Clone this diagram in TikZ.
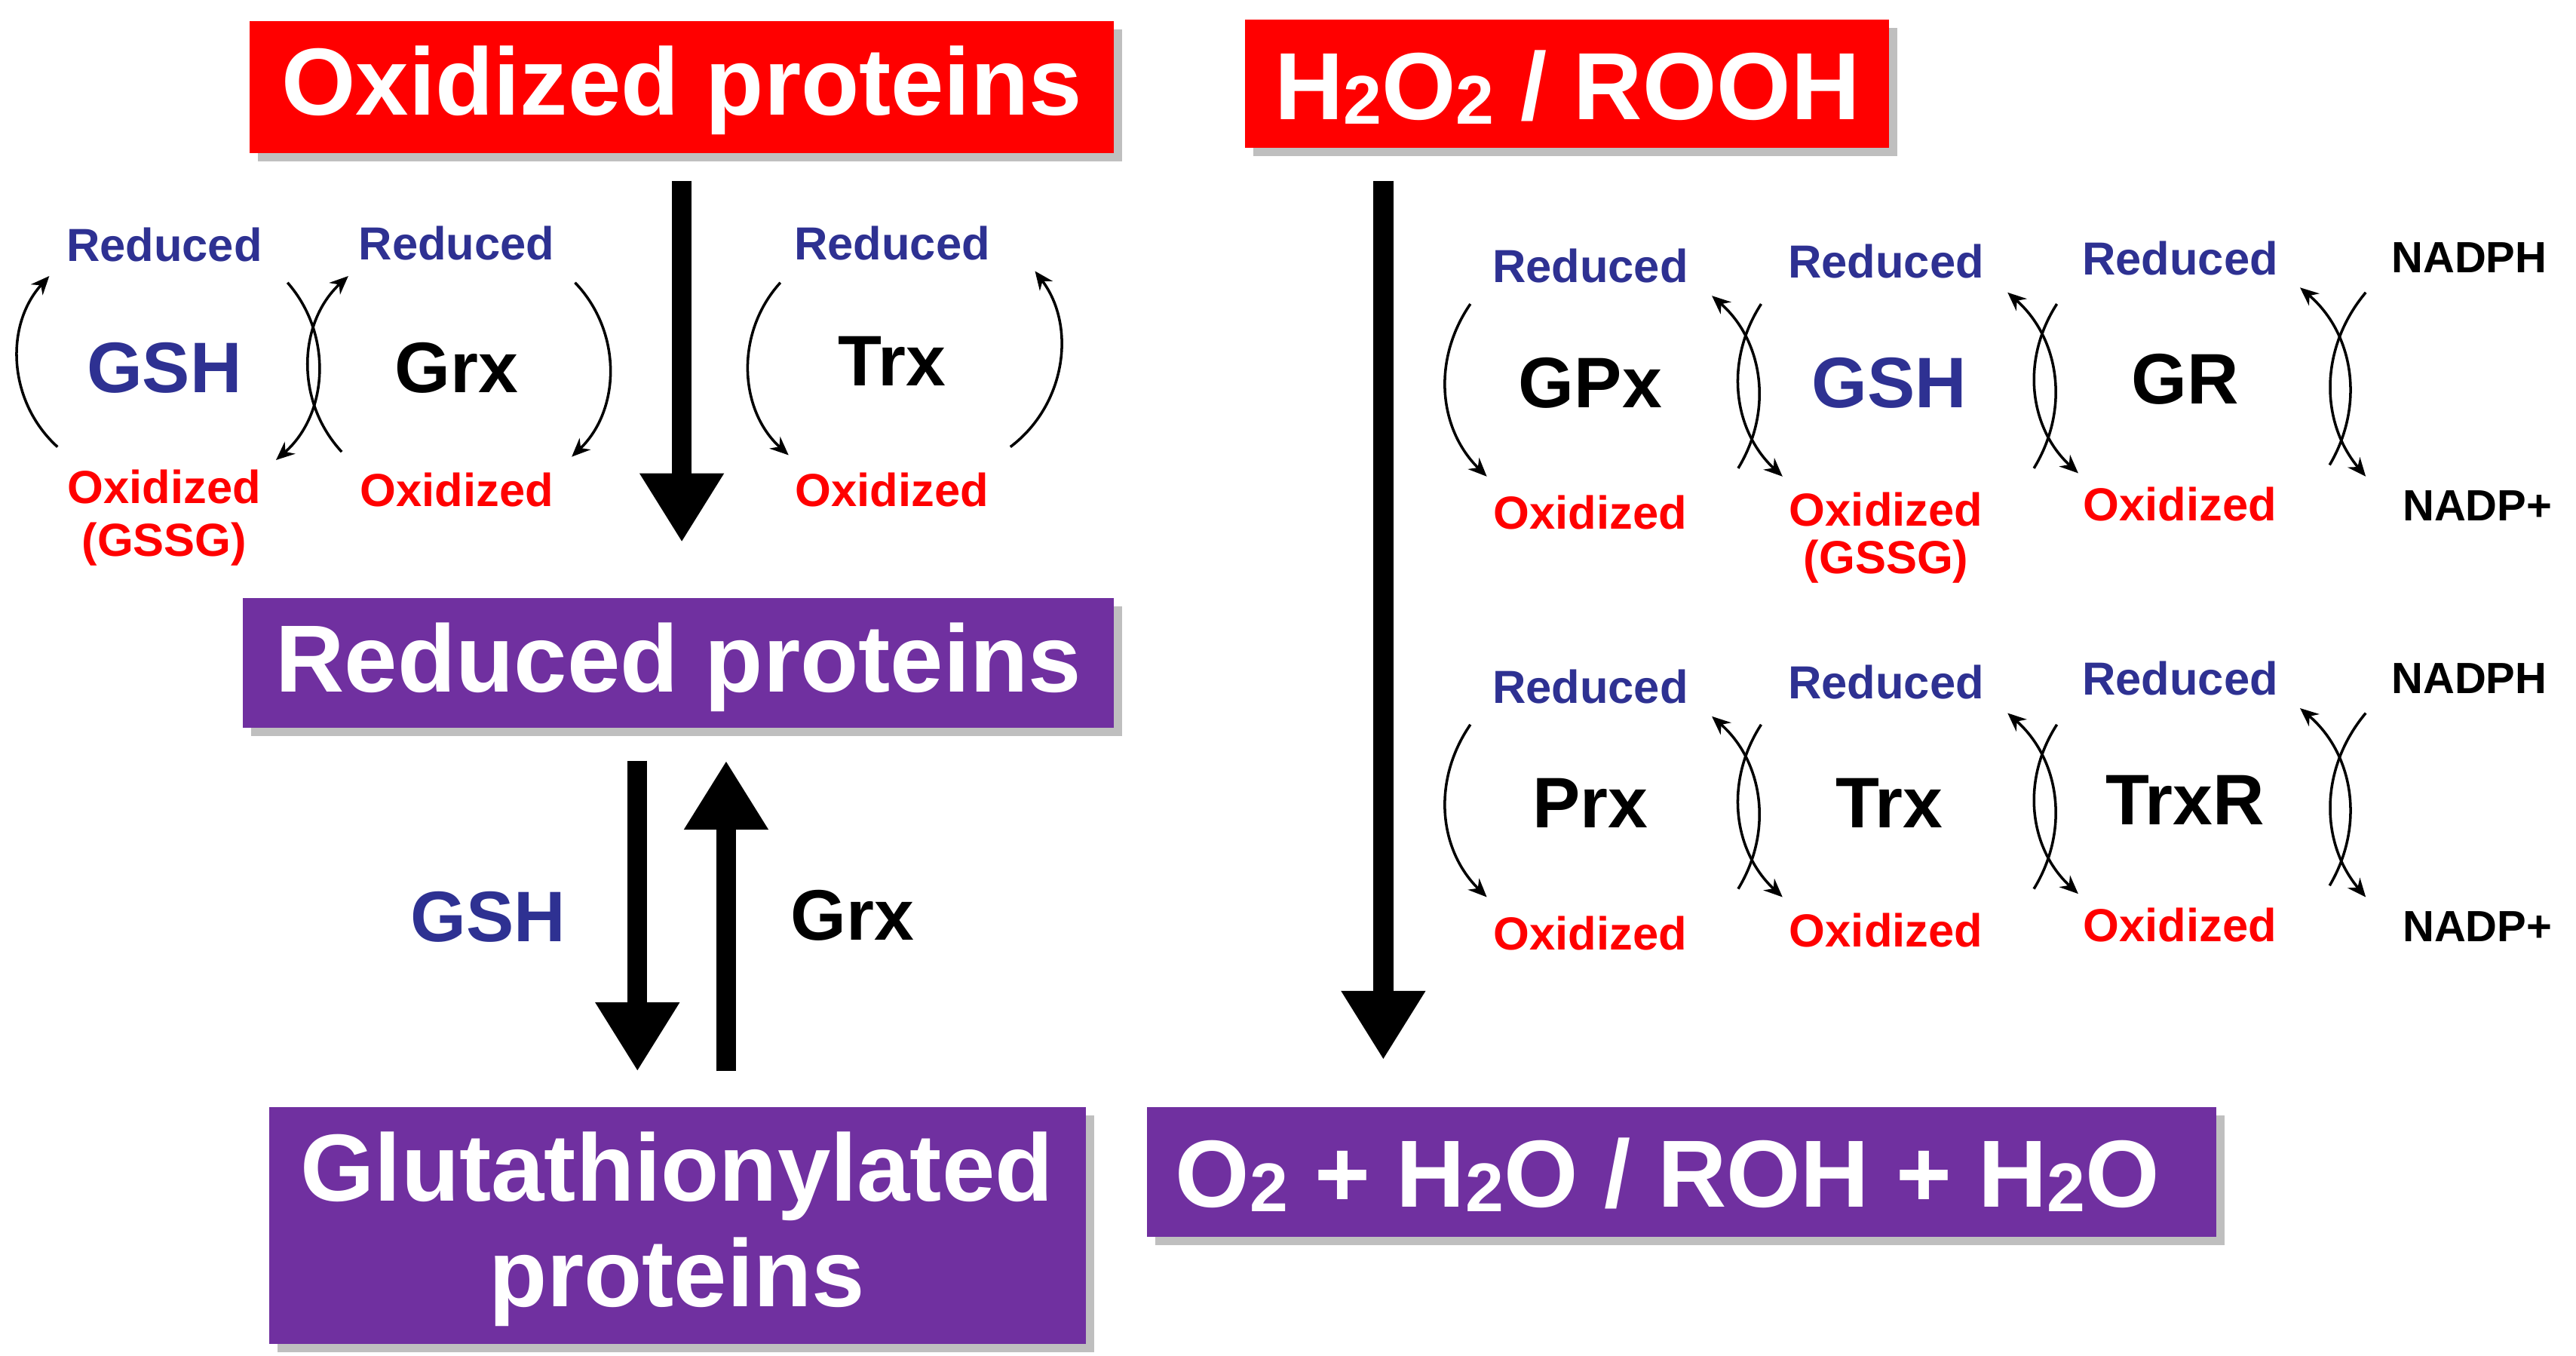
\documentclass[tikz,border=0pt]{standalone}
\usepackage{fontspec}
\setmainfont{Liberation Sans}
\usetikzlibrary{arrows.meta}
\definecolor{myred}{RGB}{255,0,0}
\definecolor{mypurple}{RGB}{112,48,160}
\definecolor{myblue}{RGB}{46,49,146}
\definecolor{oxred}{RGB}{255,0,0}
\newcommand{\lowtwo}{\raisebox{-0.05em}{\fontsize{26}{26}\selectfont 2}}
\begin{document}
\begin{tikzpicture}[x=0.021786cm,y=-0.021786cm,
  bt/.style={font=\fontsize{36}{40}\selectfont\bfseries,text=white,align=center},
  big/.style={-{Triangle[width=30pt,length=26pt]},line width=7.5pt},
  cyc/.style={-{Stealth[length=7pt,width=6pt]},line width=1pt},
  red/.style={font=\fontsize{17.5}{20}\selectfont\bfseries,text=oxred,align=center},
  rd/.style={font=\fontsize{17.5}{20}\selectfont\bfseries,text=myblue},
  nm/.style={font=\fontsize{27}{30}\selectfont\bfseries},
  nd/.style={font=\fontsize{16.5}{20}\selectfont\bfseries}]
\useasboundingbox (0,0) rectangle (1568,825);
% shadows
\foreach \a/\b/\c/\d in {152/13/678/93, 758/12/1150/90, 148/364/678/443, 164/674/661/818, 698/674/1349/753}
  \fill[black!25] (\a+5,\b+5) rectangle (\c+5,\d+5);
\fill[myred] (152,13) rectangle (678,93);
\node[bt] (opt) at (415,55) {Oxidized proteins};
\fill[myred] (758,12) rectangle (1150,90);
\node[bt] (hp) at (954,53) {H\lowtwo O\lowtwo\ / ROOH};
\fill[mypurple] (148,364) rectangle (678,443);
\node[bt] (rp) at (413,406) {Reduced proteins};
\fill[mypurple] (164,674) rectangle (661,818);
\node[bt,font=\fontsize{36}{40}\selectfont\bfseries] (gp) at (412,748) {Glutathionylated\\proteins};
\fill[mypurple] (698,674) rectangle (1349,753);
\node[bt] (ow) at (1015,715) {O\lowtwo\ + H\lowtwo O / ROH + H\lowtwo O};
% big arrows
\coordinate (a1) at (415,110); \coordinate (a2) at (415,330);
\draw[big] (a1) -- (a2);
\coordinate (b1) at (388,463); \coordinate (b2) at (388,652);
\draw[big] (b1) -- (b2);
\coordinate (c1) at (442,652); \coordinate (c2) at (442,463);
\draw[big] (c1) -- (c2);
\coordinate (d1) at (842,110); \coordinate (d2) at (842,645);
\draw[big] (d1) -- (d2);
\node[nm,text=myblue] (gshl) at (297,558) {GSH};
\node[nm] (grxl) at (519,557) {Grx};
% left cycles
\node[rd] (r1) at (100,149) {Reduced};
\node[nm,text=myblue] (n1) at (100,224) {GSH};
\node[red] (o1) at (100,315) {Oxidized\\(GSSG)};
\node[rd] (r2) at (278,148) {Reduced};
\node[nm] (n2) at (278,224) {Grx};
\node[red] (o2) at (278,298) {Oxidized};
\node[rd] (r3) at (543,148) {Reduced};
\node[nm] (n3) at (543,220) {Trx};
\node[red] (o3) at (543,298) {Oxidized};
\draw[cyc] (35,272) to[bend left=45] (30,168);
\draw[cyc] (175,172) to[bend left=45] (168,280);
\draw[cyc] (208,275) to[bend left=45] (212,168);
\draw[cyc] (350,172) to[bend left=45] (348,278);
\draw[cyc] (475,172) to[bend right=45] (480,277);
\draw[cyc] (615,272) to[bend right=45] (630,165);
% right cycles
\foreach \dy/\A/\B/\C/\bc in {0/GPx/GSH/GR/myblue, 256/Prx/Trx/TrxR/black}{
  \begin{scope}[yshift=-\dy*0.021786cm]
  \node[rd] at (968,162) {Reduced};
  \node[rd] at (1148,159) {Reduced};
  \node[rd] at (1327,157) {Reduced};
  \node[nm] at (968,233) {\A};
  \node[nm,text=\bc] at (1150,233) {\B};
  \node[nm] at (1330,231) {\C};
  \node[red] at (968,312) {Oxidized};
  \node[red] at (1148,310) {Oxidized};
  \node[red] at (1327,307) {Oxidized};
  \node[nd] at (1503,157) {NADPH};
  \node[nd] at (1508,308) {NADP+};
  \draw[cyc] (895,185) to[bend right=40] (905,290);
  \draw[cyc] (1058,285) to[bend right=40] (1042,180);
  \draw[cyc] (1072,185) to[bend right=40] (1085,290);
  \draw[cyc] (1238,285) to[bend right=40] (1222,178);
  \draw[cyc] (1252,185) to[bend right=40] (1265,288);
  \draw[cyc] (1418,283) to[bend right=40] (1400,175);
  \draw[cyc] (1440,178) to[bend right=40] (1440,290);
  \end{scope}}
\node[red] (gssg) at (1148,342) {(GSSG)};
\end{tikzpicture}
\end{document}
